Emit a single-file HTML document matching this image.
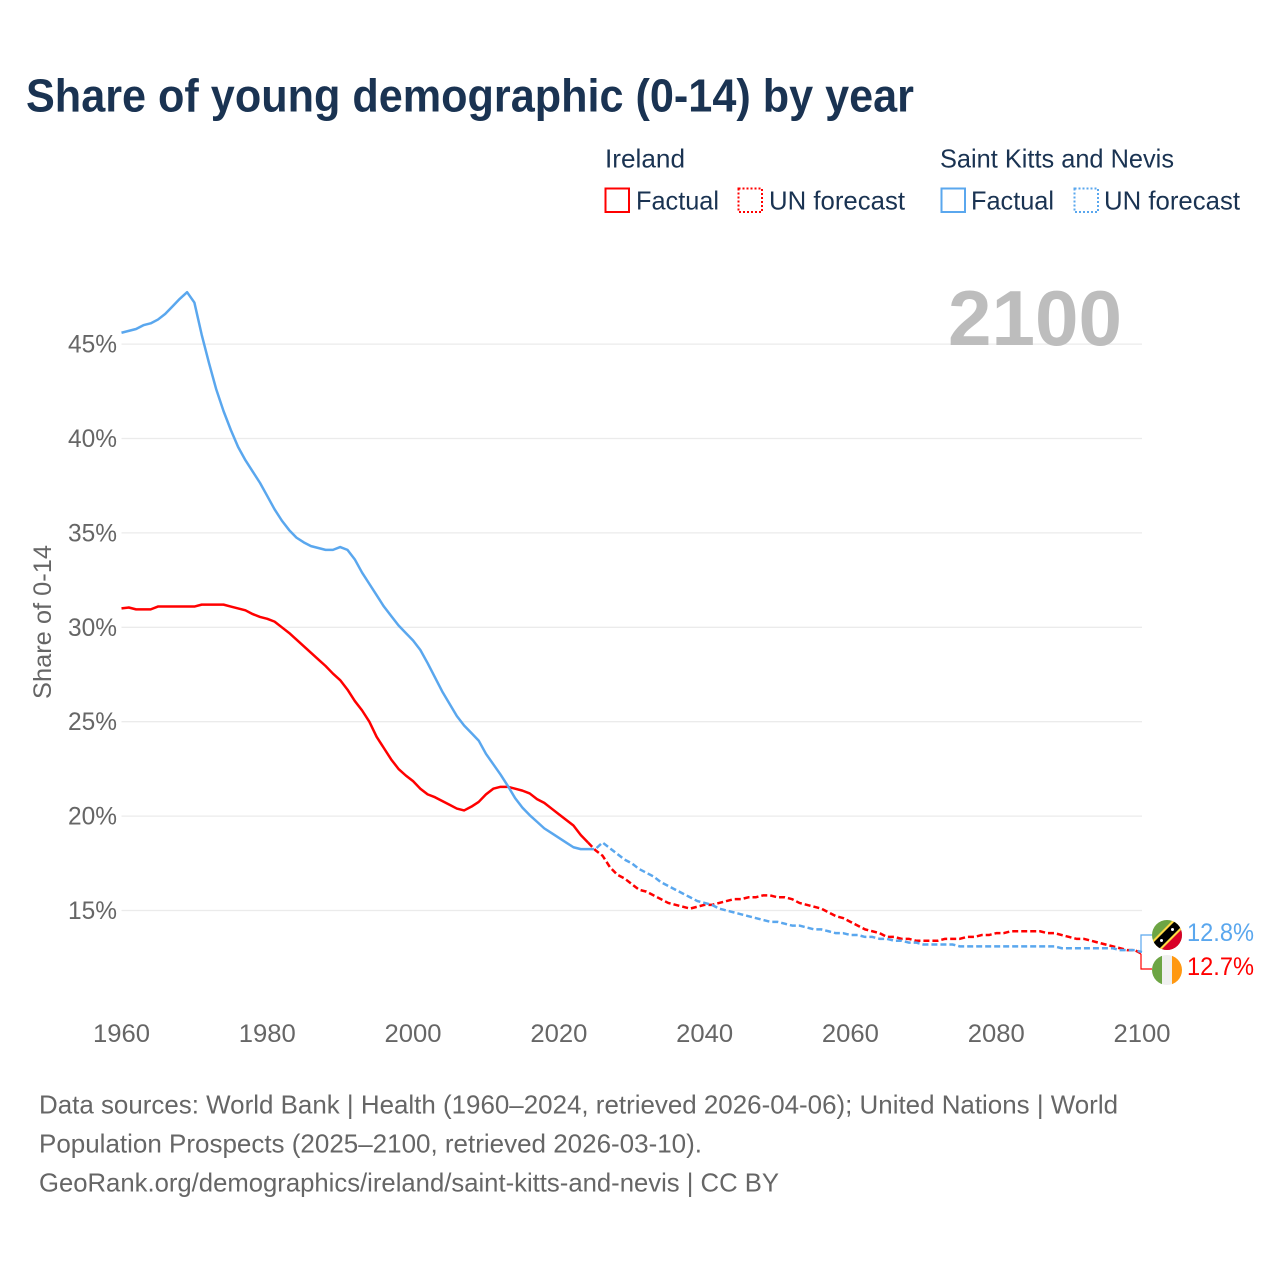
<!DOCTYPE html>
<html lang="en">
<head>
<meta charset="utf-8">
<title>Share of young demographic (0-14) by year</title>
<style>
html,body{margin:0;padding:0;background:#fff;width:1280px;height:1280px;overflow:hidden}
svg{display:block;font-family:"Liberation Sans",sans-serif}
</style>
</head>
<body>
<svg id="chart" xmlns="http://www.w3.org/2000/svg" width="1280" height="1280" viewBox="0 0 1280 1280">
  <defs>
    <clipPath id="flag-clip-kn"><circle cx="1167" cy="935" r="15"/></clipPath>
    <clipPath id="flag-clip-ie"><circle cx="1167" cy="970" r="15"/></clipPath>
  </defs>
  <rect width="1280" height="1280" fill="#fff"/>

  <text x="26" y="111.5" font-size="46" font-weight="700" fill="#1a3352" textLength="888" lengthAdjust="spacingAndGlyphs">Share of young demographic (0-14) by year</text>

  <g font-size="26" fill="#1a3352">
    <text x="605" y="167.5" textLength="80" lengthAdjust="spacingAndGlyphs">Ireland</text>
    <text x="940" y="167.5" textLength="234" lengthAdjust="spacingAndGlyphs">Saint Kitts and Nevis</text>

    <rect x="605.5" y="188.5" width="23.5" height="23.5" fill="#fff" stroke="#ff0000" stroke-width="2"/>
    <text x="636" y="209.5" textLength="83" lengthAdjust="spacingAndGlyphs">Factual</text>
    <rect x="738.5" y="188.5" width="23.5" height="23.5" fill="#fff" stroke="#ff0000" stroke-width="2" stroke-dasharray="2 2"/>
    <text x="769" y="209.5" textLength="136" lengthAdjust="spacingAndGlyphs">UN forecast</text>

    <rect x="941.5" y="188.5" width="23.5" height="23.5" fill="#fff" stroke="#5aa7ee" stroke-width="2"/>
    <text x="971" y="209.5" textLength="83" lengthAdjust="spacingAndGlyphs">Factual</text>
    <rect x="1074.5" y="188.5" width="23.5" height="23.5" fill="#fff" stroke="#5aa7ee" stroke-width="2" stroke-dasharray="2 2"/>
    <text x="1104" y="209.5" textLength="136" lengthAdjust="spacingAndGlyphs">UN forecast</text>
  </g>

  <g id="grid"></g>

  <text x="1122" y="345" text-anchor="end" font-size="78" font-weight="700" fill="#bdbdbd" textLength="174" lengthAdjust="spacingAndGlyphs">2100</text>

  <g id="yticks"></g>
  <g id="xticks"></g>

  <text transform="translate(51 622) rotate(-90)" text-anchor="middle" font-size="25" fill="#666" textLength="154" lengthAdjust="spacingAndGlyphs">Share of 0-14</text>

  <g id="series"></g>
  <g id="connectors"></g>

  <g clip-path="url(#flag-clip-kn)">
    <rect x="1152" y="920" width="30" height="30" fill="#6da544"/>
    <polygon points="1182,920 1182,950 1152,950" fill="#d80027"/>
    <polygon points="1152,941 1173,920 1182,920 1182,929 1161,950 1152,950" fill="#ffda44"/>
    <polygon points="1152,944 1176,920 1182,920 1182,926 1158,950 1152,950" fill="#000"/>
    <circle cx="1161.5" cy="940.5" r="1.5" fill="#fff"/>
    <circle cx="1172.5" cy="929.5" r="1.5" fill="#fff"/>
  </g>
  <g clip-path="url(#flag-clip-ie)">
    <rect x="1152" y="955" width="10" height="30" fill="#6da544"/>
    <rect x="1162" y="955" width="10" height="30" fill="#f0f0f0"/>
    <rect x="1172" y="955" width="10" height="30" fill="#ff9811"/>
  </g>

  <text x="1187" y="941" font-size="25" fill="#5aa7ee" textLength="67" lengthAdjust="spacingAndGlyphs">12.8%</text>
  <text x="1187" y="975" font-size="25" fill="#ff0000" textLength="67" lengthAdjust="spacingAndGlyphs">12.7%</text>

  <g font-size="26" fill="#666">
    <text x="39" y="1113.5" textLength="1079" lengthAdjust="spacingAndGlyphs">Data sources: World Bank | Health (1960–2024, retrieved 2026-04-06); United Nations | World</text>
    <text x="39" y="1152.5" textLength="663" lengthAdjust="spacingAndGlyphs">Population Prospects (2025–2100, retrieved 2026-03-10).</text>
    <text x="39" y="1191.5" textLength="740" lengthAdjust="spacingAndGlyphs">GeoRank.org/demographics/ireland/saint-kitts-and-nevis | CC BY</text>
  </g>
</svg>

<script>
const xTickYears = [1960, 1980, 2000, 2020, 2040, 2060, 2080, 2100];
const yTickValues = [15, 20, 25, 30, 35, 40, 45];

const factualStartYear = 1960;
const forecastStartYear = 2024;

const irelandFactual = [
  31.0,31.05,30.95,30.95,30.95,31.1,31.1,31.1,31.1,31.1,
  31.1,31.2,31.2,31.2,31.2,31.1,31.0,30.9,30.7,30.55,
  30.45,30.3,30.0,29.7,29.35,29.0,28.65,28.3,27.95,27.55,
  27.2,26.7,26.1,25.6,25.0,24.2,23.6,23.0,22.5,22.15,
  21.85,21.45,21.15,21.0,20.8,20.6,20.4,20.3,20.5,20.75,
  21.15,21.45,21.55,21.55,21.45,21.35,21.2,20.9,20.7,20.4,
  20.1,19.8,19.5,19.0,18.6
];

const kittsFactual = [
  45.6,45.7,45.8,46.0,46.1,46.3,46.6,47.0,47.4,47.75,
  47.2,45.5,44.0,42.6,41.45,40.45,39.55,38.85,38.25,37.65,
  36.95,36.25,35.65,35.15,34.75,34.5,34.3,34.2,34.1,34.1,
  34.25,34.1,33.6,32.9,32.3,31.7,31.1,30.6,30.1,29.7,
  29.3,28.8,28.1,27.35,26.6,25.95,25.3,24.8,24.4,24.0,
  23.3,22.75,22.2,21.6,20.95,20.45,20.05,19.7,19.35,19.1,
  18.85,18.6,18.35,18.25,18.25
];

const irelandForecast = [
  18.6,18.2,17.9,17.3,16.9,16.7,16.4,16.1,16.0,15.8,15.6,15.4,15.3,15.2,15.1,15.2,
  15.3,15.3,15.4,15.5,15.6,15.6,15.7,15.7,15.8,15.8,
  15.7,15.7,15.6,15.4,15.3,15.2,15.1,14.9,14.7,14.6,
  14.4,14.2,14.0,13.9,13.8,13.6,13.6,13.5,13.5,13.4,
  13.4,13.4,13.4,13.5,13.5,13.5,13.6,13.6,13.7,13.7,
  13.8,13.8,13.9,13.9,13.9,13.9,13.9,13.8,13.8,13.7,
  13.6,13.5,13.5,13.4,13.3,13.2,13.1,13.0,12.9,12.9,12.7
];

const kittsForecast = [
  18.25,18.25,18.6,18.3,18.0,17.7,17.5,17.2,17.0,16.8,16.5,16.3,16.1,15.9,15.7,15.5,
  15.4,15.3,15.1,15.0,14.9,14.8,14.7,14.6,14.5,14.4,
  14.4,14.3,14.2,14.2,14.1,14.0,14.0,13.9,13.8,13.8,
  13.7,13.7,13.6,13.6,13.5,13.5,13.4,13.4,13.3,13.3,
  13.2,13.2,13.2,13.2,13.2,13.1,13.1,13.1,13.1,13.1,
  13.1,13.1,13.1,13.1,13.1,13.1,13.1,13.1,13.1,13.0,
  13.0,13.0,13.0,13.0,13.0,13.0,13.0,12.9,12.9,12.9,12.8
];

const NS = 'http://www.w3.org/2000/svg';
const xScale = function (year) { return 121.5 + (year - 1960) * (1142 - 121.5) / 140; };
const yScale = function (v) { return 910.5 - (v - 15) * 18.88; };

function pointsFrom(values, startYear) {
  return values.map(function (v, i) {
    return xScale(startYear + i).toFixed(2) + ',' + yScale(v).toFixed(2);
  }).join(' ');
}

const gridGroup = document.getElementById('grid');
const yTickGroup = document.getElementById('yticks');
const xTickGroup = document.getElementById('xticks');
const seriesGroup = document.getElementById('series');
const connectorGroup = document.getElementById('connectors');

yTickValues.forEach(function (v) {
  const line = document.createElementNS(NS, 'line');
  
  
  line.setAttribute('x1', xScale(1960));
  line.setAttribute('x2', xScale(2100));
  line.setAttribute('y1', yScale(v));
  line.setAttribute('y2', yScale(v));
  line.setAttribute('stroke', '#ebebeb');
  line.setAttribute('stroke-width', '1.3');
  gridGroup.appendChild(line);

  const label = document.createElementNS(NS, 'text');
  
  
  label.setAttribute('x', 117);
  label.setAttribute('y', yScale(v) + 8.5);
  label.setAttribute('text-anchor', 'end');
  label.setAttribute('font-size', '25');
  label.setAttribute('fill', '#666');
  label.setAttribute('textLength', '49');
  label.setAttribute('lengthAdjust', 'spacingAndGlyphs');
  label.textContent = v + '%';
  yTickGroup.appendChild(label);
});

xTickYears.forEach(function (year) {
  const label = document.createElementNS(NS, 'text');
  
  
  label.setAttribute('x', xScale(year));
  label.setAttribute('y', 1042);
  label.setAttribute('text-anchor', 'middle');
  label.setAttribute('font-size', '25');
  label.setAttribute('fill', '#666');
  label.setAttribute('textLength', '57');
  label.setAttribute('lengthAdjust', 'spacingAndGlyphs');
  label.textContent = year;
  xTickGroup.appendChild(label);
});

function addLine(values, startYear, color, dashed, name) {
  const line = document.createElementNS(NS, 'polyline');
  
  
  line.setAttribute('points', pointsFrom(values, startYear));
  line.setAttribute('fill', 'none');
  line.setAttribute('stroke', color);
  line.setAttribute('stroke-width', '2.5');
  line.setAttribute('stroke-linejoin', 'round');
  if (dashed) { line.setAttribute('stroke-dasharray', '6 3'); }
  seriesGroup.appendChild(line);
}

addLine(irelandFactual, factualStartYear, '#ff0000', false, 'ireland-factual-line');
addLine(irelandForecast, forecastStartYear, '#ff0000', true, 'ireland-forecast-line');
addLine(kittsFactual, factualStartYear, '#5aa7ee', false, 'saint-kitts-factual-line');
addLine(kittsForecast, forecastStartYear, '#5aa7ee', true, 'saint-kitts-forecast-line');

function addConnector(values, color, flagY, name) {
  const lastY = yScale(values[values.length - 1]);
  const path = document.createElementNS(NS, 'polyline');
  
  
  path.setAttribute('points', '1141,' + lastY.toFixed(2) + ' 1141,' + flagY + ' 1152,' + flagY);
  path.setAttribute('fill', 'none');
  path.setAttribute('stroke', color);
  path.setAttribute('stroke-width', '1.2');
  connectorGroup.appendChild(path);
}

addConnector(irelandForecast, '#ff0000', 969, 'ireland-end-connector');
addConnector(kittsForecast, '#5aa7ee', 935, 'saint-kitts-end-connector');
</script>
</body>
</html>
